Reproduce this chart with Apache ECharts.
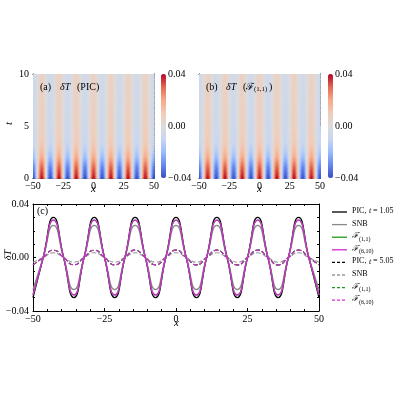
<!DOCTYPE html><html><head><meta charset="utf-8">
<script src="https://cdn.jsdelivr.net/npm/echarts@6/dist/echarts.min.js"></script>
<style>html,body{margin:0;padding:0;background:#fff}#c{width:400px;height:400px}</style></head><body><div id="c"></div>
<script>
// ---- data ----
const xTicks=[-50,-25,0,25,50];
const xs=[-50,-46.43,-42.86,-39.29,-35.71,-32.14,-28.57,-25,-21.43,-17.86,-14.29,-10.71,-7.14,-3.57,0,3.57,7.14,10.71,14.29,17.86,21.43,25,28.57,32.14,35.71,39.29,42.86,46.43,50];
const picT1=[-0.030,0,0.030,0,-0.030,0,0.030,0,-0.030,0,0.030,0,-0.030,0,0.030,0,-0.030,0,0.030,0,-0.030,0,0.030,0,-0.030,0,0.030,0,-0.030];
const snbT1=[-0.024,0,0.024,0,-0.024,0,0.024,0,-0.024,0,0.024,0,-0.024,0,0.024,0,-0.024,0,0.024,0,-0.024,0,0.024,0,-0.024,0,0.024,0,-0.024];
const f11T1=[-0.028,0,0.028,0,-0.028,0,0.028,0,-0.028,0,0.028,0,-0.028,0,0.028,0,-0.028,0,0.028,0,-0.028,0,0.028,0,-0.028,0,0.028,0,-0.028];
const f610T1=[-0.028,0,0.028,0,-0.028,0,0.028,0,-0.028,0,0.028,0,-0.028,0,0.028,0,-0.028,0,0.028,0,-0.028,0,0.028,0,-0.028,0,0.028,0,-0.028];
const picT5=[-0.0055,0,0.0055,0,-0.0055,0,0.0055,0,-0.0055,0,0.0055,0,-0.0055,0,0.0055,0,-0.0055,0,0.0055,0,-0.0055,0,0.0055,0,-0.0055,0,0.0055,0,-0.0055];
const snbT5=[-0.0035,0,0.0035,0,-0.0035,0,0.0035,0,-0.0035,0,0.0035,0,-0.0035,0,0.0035,0,-0.0035,0,0.0035,0,-0.0035,0,0.0035,0,-0.0035,0,0.0035,0,-0.0035];
const f11T5=[-0.0055,0,0.0055,0,-0.0055,0,0.0055,0,-0.0055,0,0.0055,0,-0.0055,0,0.0055,0,-0.0055,0,0.0055,0,-0.0055,0,0.0055,0,-0.0055,0,0.0055,0,-0.0055];
const f610T5=[-0.0055,0,0.0055,0,-0.0055,0,0.0055,0,-0.0055,0,0.0055,0,-0.0055,0,0.0055,0,-0.0055,0,0.0055,0,-0.0055,0,0.0055,0,-0.0055,0,0.0055,0,-0.0055];
// heat map: column profile over one period (16 cells, repeated 7 times across x, trough at x=-50) and row amplitude vs t
const colProfile=[-0.98,-0.83,-0.56,-0.20,0.20,0.56,0.83,0.98,0.98,0.83,0.56,0.20,-0.20,-0.56,-0.83,-0.98];
const tRows=[0.125,0.375,0.625,0.875,1.125,1.375,1.625,1.875,2.125,2.375,2.625,2.875,3.125,3.375,3.625,3.875,4.25,4.75,5.25,5.75,6.25,6.75,7.25,7.75,8.25,8.75,9.25,9.75];
const tHalf=[0.125,0.125,0.125,0.125,0.125,0.125,0.125,0.125,0.125,0.125,0.125,0.125,0.125,0.125,0.125,0.125,0.25,0.25,0.25,0.25,0.25,0.25,0.25,0.25,0.25,0.25,0.25,0.25];
const ampPIC=[0.039,0.037,0.035,0.033,0.031,0.028,0.025,0.022,0.019,0.017,0.015,0.013,0.012,0.011,0.010,0.0095,0.009,0.0085,0.008,0.008,0.0078,0.0076,0.0074,0.0072,0.007,0.007,0.0068,0.0066];
const ampF11=[0.039,0.037,0.035,0.033,0.031,0.028,0.025,0.022,0.019,0.017,0.015,0.013,0.012,0.011,0.010,0.0095,0.009,0.0085,0.008,0.008,0.0078,0.0076,0.0074,0.0072,0.007,0.007,0.0068,0.0066];
// ---- build ----
const NC=112;
function cells(amp){const d=[];const dx=100/NC;
 for(let j=0;j<tRows.length;j++)for(let i=0;i<NC;i++)d.push([-50+(i+0.5)*dx,tRows[j],amp[j]*colProfile[i%16],tHalf[j]]);return d;}
const FONT='Liberation Serif';
const pair=a=>xs.map((x,i)=>[x,a[i]]);
function rend(p,api){const dx=100/NC/2,dt=api.value(3);
 const a=api.coord([api.value(0)-dx,api.value(1)+dt]),b=api.coord([api.value(0)+dx,api.value(1)-dt]);
 return{type:'rect',shape:{x:a[0],y:a[1],width:b[0]-a[0]+0.8,height:b[1]-a[1]+0.8},style:{fill:api.visual('color'),stroke:null}};}
const cm=['#3b4cc0','#6788ee','#9abbff','#c9d7f0','#dddcdc','#f2cbb7','#f7a889','#e26952','#b40426'];
const ax={color:'#000',fontFamily:FONT,fontSize:10};
function xA(gi,show){return{type:'value',gridIndex:gi,min:-50,max:50,interval:25,axisLine:{show:true,onZero:false,lineStyle:{color:'#000'}},axisTick:{show:true,inside:true,length:3,lineStyle:{color:'#000'}},minorTick:{show:true,splitNumber:5,length:2,lineStyle:{color:'#000'}},axisLabel:Object.assign({show:show,margin:3,formatter:v=>v<0?'\u2212'+(-v):v},ax),splitLine:{show:false}};}
function xTop(gi){const a=xA(gi,false);a.position='top';return a;}
const tAx=(gi,show,pos)=>({type:'value',gridIndex:gi,position:pos,min:0,max:10,interval:5,axisLine:{show:true,onZero:false,lineStyle:{color:'#000'}},axisTick:{show:true,inside:true,length:3,lineStyle:{color:'#000'}},minorTick:{show:true,splitNumber:5,length:2,lineStyle:{color:'#000'}},axisLabel:Object.assign({show:show,margin:4},ax),splitLine:{show:false}});
const dAx=(pos,show)=>({type:'value',gridIndex:2,position:pos,min:-0.04,max:0.04,interval:0.04,axisLine:{show:true,onZero:false,lineStyle:{color:'#000'}},axisTick:{show:true,inside:true,length:3,lineStyle:{color:'#000'}},minorTick:{show:true,splitNumber:4,length:2,lineStyle:{color:'#000'}},axisLabel:Object.assign({show:show,margin:4,formatter:v=>v<0?'\u2212'+(-v).toFixed(2):v.toFixed(2)},ax),splitLine:{show:false}});
const L=[
 ['PIC1',picT1,'#000','solid'],['SNB1',snbT1,'#888','solid'],['F111',f11T1,'#1e9a1e','solid'],['F6101',f610T1,'#d62ad6','solid'],
 ['PIC5',picT5,'#000','dashed'],['SNB5',snbT5,'#999','dashed'],['F115',f11T5,'#1e9a1e','dashed'],['F6105',f610T5,'#d62ad6','dashed']];
const labels=['PIC,  t = 1.05','SNB','F(1,1)','F(6,10)','PIC,  t = 5.05','SNB','F(1,1)','F(6,10)'];
const lineSeries=L.map(l=>({name:l[0],type:'line',xAxisIndex:2,yAxisIndex:2,data:pair(l[1]),smooth:0.55,showSymbol:false,symbol:'none',lineStyle:{color:l[2],type:l[3],width:l[3]==='solid'?1.3:1.1},z:l[2]==='#d62ad6'?5:(l[2]==='#000'?3:4)}));
const gtext=(x,y,t,extra)=>({type:'text',left:x,top:y,z:100,style:Object.assign({text:t,fontFamily:FONT,fontSize:10,fill:'#000'},extra||{})});
const cbLab=(x)=>[gtext(x,69,'0.04'),gtext(x,121,'0.00'),gtext(x,173,'\u22120.04')];
// manual legend
const leg=[];
L.forEach((l,k)=>{const y=212+k*12.6;
 leg.push({type:'line',z:100,shape:{x1:332,y1:y,x2:347,y2:y},style:{stroke:l[2],lineWidth:1.3,lineDash:l[3]==='dashed'?[3,2]:null}});
 const t=labels[k];
 if(t.startsWith('PIC')){leg.push(gtext(352,y-5,'PIC,',{fontSize:8}),gtext(369,y-5,'t',{fontSize:8,fontStyle:'italic'}),gtext(373,y-5,'= '+t.slice(-4),{fontSize:8}));}
 else if(t.startsWith('F')){leg.push(gtext(352,y-5,'\u2131',{fontSize:8,fontStyle:'italic'}),gtext(359,y-1,t.slice(1),{fontSize:6}));}
 else leg.push(gtext(352,y-5,t,{fontSize:8}));
});
const chart=echarts.init(document.getElementById('c'));
chart.setOption({animation:false,backgroundColor:'#fff',
 grid:[{left:33,top:74,width:121,height:104},{left:199,top:74,width:121,height:104},{left:33,top:204,width:286,height:107}],
 xAxis:[xA(0,true),xA(1,true),xA(2,true),xTop(0),xTop(1),xTop(2)],
 yAxis:[tAx(0,true,'left'),tAx(1,false,'left'),dAx('left',true),tAx(0,false,'right'),tAx(1,false,'right'),dAx('right',false)],
 visualMap:[{type:'continuous',min:-0.04,max:0.04,seriesIndex:[0],dimension:2,inRange:{color:cm},show:true,left:161,top:74,itemWidth:5,itemHeight:104,text:['',''],showLabel:false,calculable:false,padding:0},
  {type:'continuous',min:-0.04,max:0.04,seriesIndex:[1],dimension:2,inRange:{color:cm},show:true,left:328,top:74,itemWidth:5,itemHeight:104,text:['',''],calculable:false,padding:0}],
 series:[{type:'custom',xAxisIndex:0,yAxisIndex:0,data:cells(ampPIC),renderItem:rend,encode:{x:0,y:1}},
  {type:'custom',xAxisIndex:1,yAxisIndex:1,data:cells(ampF11),renderItem:rend,encode:{x:0,y:1}}].concat(lineSeries),
 graphic:[
  gtext(40,82,'(a)'),gtext(60,82,'\u03b4T',{fontStyle:'italic'}),gtext(77,82,'(PIC)'),
  gtext(206,82,'(b)'),gtext(226,82,'\u03b4T',{fontStyle:'italic'}),gtext(243,82,'(\u2131',{}),gtext(254,86,'(1,1)',{fontSize:7}),gtext(269,82,')'),
  gtext(37,206,'(c)'),
  gtext(91,184,'x',{fontStyle:'italic',fontSize:11}),gtext(257,184,'x',{fontStyle:'italic',fontSize:11}),gtext(174,318,'x',{fontStyle:'italic',fontSize:11}),
  {type:'text',left:4,top:122,z:100,rotation:Math.PI/2,style:{text:'t',fontFamily:FONT,fontStyle:'italic',fontSize:11,fill:'#000'}},
  {type:'text',left:3,top:250,z:100,rotation:Math.PI/2,style:{text:'\u03b4T',fontFamily:FONT,fontStyle:'italic',fontSize:10,fill:'#000'}}
 ].concat(cbLab(168),cbLab(335),leg)
});
</script></body></html>
